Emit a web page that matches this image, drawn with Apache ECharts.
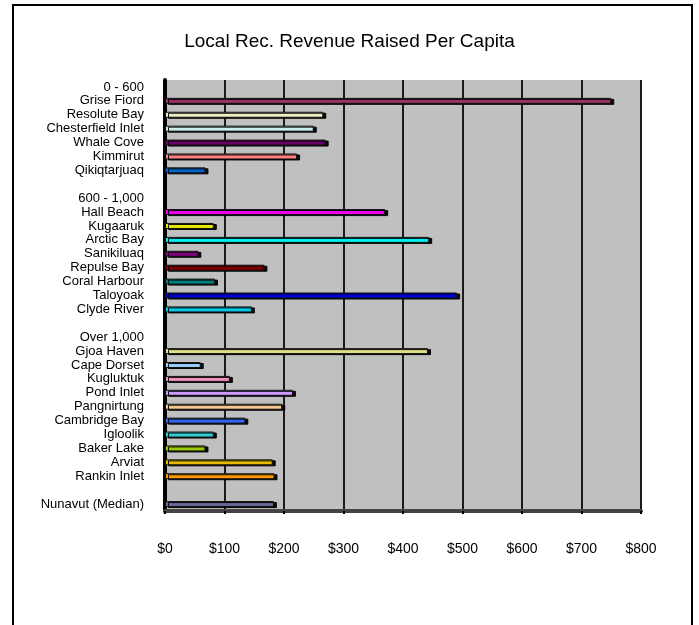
<!DOCTYPE html>
<html>
<head>
<meta charset="utf-8">
<script src="https://cdn.jsdelivr.net/npm/echarts@6/dist/echarts.min.js"></script>
<style>
html,body{margin:0;padding:0;background:#fff;}
#chart{width:699px;height:625px;}
</style>
</head>
<body>
<div id="chart"></div>
<script>
// Category labels (top to bottom); blank rows are spacers, group headers carry no bar
const categories = [
  '0 - 600', 'Grise Fiord', 'Resolute Bay', 'Chesterfield Inlet', 'Whale Cove', 'Kimmirut', 'Qikiqtarjuaq',
  ' ',
  '600 - 1,000', 'Hall Beach', 'Kugaaruk', 'Arctic Bay', 'Sanikiluaq', 'Repulse Bay', 'Coral Harbour', 'Taloyoak', 'Clyde River',
  '  ',
  'Over 1,000', 'Gjoa Haven', 'Cape Dorset', 'Kugluktuk', 'Pond Inlet', 'Pangnirtung', 'Cambridge Bay', 'Igloolik', 'Baker Lake', 'Arviat', 'Rankin Inlet',
  '   ',
  'Nunavut (Median)'
];
// Revenue per capita ($), null = no bar
const values = [
  null, 750, 266, 250, 270, 222, 68,
  null,
  null, 370, 82, 444, 56, 167, 84, 491, 146,
  null,
  null, 442, 60, 109, 215, 197, 135, 82, 68, 181, 184,
  null,
  183
];
const barColors = [
  null, '#993366', '#EEEEC4', '#CCEEEE', '#660066', '#FF8080', '#0066CC',
  null,
  null, '#EE00EE', '#E6E600', '#00EEEE', '#800080', '#800000', '#008080', '#0000DD', '#00CCEE',
  null,
  null, '#E0E08C', '#99CCFF', '#F090C0', '#CC99FF', '#F5C896', '#3366EE', '#33CCCC', '#99CC00', '#E6B800', '#FF9900',
  null,
  '#666699'
];
const xTicks = [0, 100, 200, 300, 400, 500, 600, 700, 800];

const chart = echarts.init(document.getElementById('chart'));
const font = "'Liberation Sans', Arial, sans-serif";
chart.setOption({
  animation: false,
  backgroundColor: '#ffffff',
  title: {
    text: 'Local Rec. Revenue Raised Per Capita',
    left: 'center',
    top: 27,
    textStyle: { fontFamily: font, fontSize: 19, fontWeight: 'normal', color: '#000' }
  },
  graphic: [{
    type: 'rect',
    shape: { x: 13, y: 5, width: 679, height: 660 },
    style: { fill: null, stroke: '#000', lineWidth: 2 },
    silent: true
  }],
  grid: {
    left: 165, right: 58, top: 80, bottom: 114,
    show: true, backgroundColor: '#C0C0C0', borderWidth: 0
  },
  xAxis: {
    type: 'value',
    min: xTicks[0], max: xTicks[xTicks.length - 1], interval: 100,
    axisLine: { show: true, lineStyle: { color: '#444', width: 4 } },
    axisTick: { show: true, length: 3, lineStyle: { color: '#000', width: 2 } },
    axisLabel: {
      margin: 31, fontFamily: font, fontSize: 14, color: '#000',
      formatter: v => '$' + v
    },
    splitLine: { show: true, lineStyle: { color: '#1a1a1a', width: 2 } }
  },
  yAxis: {
    type: 'category',
    inverse: true,
    data: categories,
    axisLine: { show: true, lineStyle: { color: '#000', width: 4 } },
    axisTick: { show: false },
    axisLabel: { margin: 21, fontFamily: font, fontSize: 13, color: '#000', interval: 0 },
    splitLine: { show: false }
  },
  series: [{
    type: 'bar',
    barWidth: 6,
    data: values.map((v, i) => ({
      value: v,
      itemStyle: {
        color: barColors[i] || '#000',
        borderColor: '#111', borderWidth: 1,
        shadowColor: 'rgba(0,0,0,0.95)', shadowOffsetX: 3, shadowOffsetY: 1, shadowBlur: 0
      }
    }))
  }]
});
</script>
</body>
</html>
